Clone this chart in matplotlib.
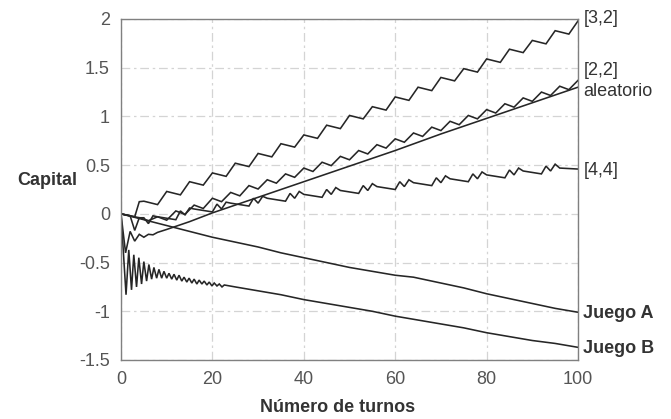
import matplotlib
matplotlib.use("Agg")
import matplotlib.pyplot as plt

# ---- data ----
x_32 = [0, 1, 2, 3, 4, 5, 8, 10, 13, 15, 18, 20, 23, 25, 28, 30, 33, 35, 38, 40, 43, 45, 48, 50,
        53, 55, 58, 60, 63, 65, 68, 70, 73, 75, 78, 80, 83, 85, 88, 90, 93, 95, 98, 100]
y_32 = [0, -0.01, -0.02, -0.03, 0.125, 0.13, 0.095, 0.23, 0.195, 0.33, 0.295, 0.42, 0.385, 0.52,
        0.485, 0.62, 0.585, 0.72, 0.685, 0.81, 0.775, 0.91, 0.875, 1.01, 0.975, 1.10, 1.065, 1.20,
        1.165, 1.30, 1.265, 1.40, 1.365, 1.49, 1.455, 1.59, 1.555, 1.69, 1.655, 1.78, 1.745, 1.88,
        1.845, 1.98]

x_22 = [0, 2, 3, 4, 6, 8, 10, 12, 14, 16, 18, 20, 22, 24, 26, 28, 30, 32, 34, 36, 38, 40, 42, 44,
        46, 48, 50, 52, 54, 56, 58, 60, 62, 64, 66, 68, 70, 72, 74, 76, 78, 80, 82, 84, 86, 88,
        90, 92, 94, 96, 98, 100]
y_22 = [0, -0.02, -0.17, -0.04, -0.07, -0.03, -0.065, 0.03, -0.005, 0.09, 0.055, 0.16, 0.125,
        0.22, 0.185, 0.29, 0.255, 0.35, 0.315, 0.41, 0.375, 0.47, 0.435, 0.53, 0.495, 0.59, 0.555,
        0.65, 0.615, 0.71, 0.675, 0.77, 0.735, 0.83, 0.795, 0.89, 0.855, 0.95, 0.915, 1.01, 0.975,
        1.07, 1.035, 1.13, 1.095, 1.19, 1.155, 1.25, 1.215, 1.31, 1.275, 1.37]

x_rand = [0, 1, 2, 3, 4, 5, 6, 7, 8, 10, 15, 20, 30, 40, 50, 60, 70, 80, 90, 100]
y_rand = [0, -0.40, -0.18, -0.28, -0.21, -0.24, -0.21, -0.215, -0.19, -0.16, -0.08, 0.01, 0.17,
          0.33, 0.49, 0.65, 0.82, 0.98, 1.14, 1.30]

x_44 = [0, 4, 5, 6, 7, 8, 12, 13, 14, 15, 16, 20, 21, 22, 23, 24, 28, 29, 30, 31, 32, 36, 37, 38,
        39, 40, 44, 45, 46, 47, 48, 52, 53, 54, 55, 56, 60, 61, 62, 63, 64, 68, 69, 70, 71, 72, 76,
        77, 78, 79, 80, 84, 85, 86, 87, 88, 92, 93, 94, 95, 96, 100]
y_44 = [0, -0.04, -0.04, -0.10, -0.02, -0.03, -0.06, 0.03, -0.01, 0.06, 0.05, 0.02, 0.10, 0.05,
        0.12, 0.11, 0.08, 0.16, 0.11, 0.18, 0.16, 0.13, 0.21, 0.16, 0.23, 0.20, 0.17, 0.25, 0.20,
        0.27, 0.24, 0.21, 0.29, 0.24, 0.31, 0.28, 0.25, 0.33, 0.28, 0.35, 0.32, 0.29, 0.37, 0.32,
        0.39, 0.36, 0.33, 0.41, 0.36, 0.43, 0.40, 0.37, 0.45, 0.40, 0.47, 0.44, 0.41, 0.49, 0.44,
        0.51, 0.47, 0.46]

x_A = [0, 5, 10, 15, 20, 25, 30, 35, 40, 45, 50, 55, 60, 64, 70, 75, 80, 85, 90, 95, 100]
y_A = [0, -0.06, -0.12, -0.18, -0.24, -0.29, -0.34, -0.40, -0.45, -0.50, -0.55, -0.59, -0.63,
       -0.65, -0.71, -0.76, -0.82, -0.87, -0.92, -0.97, -1.01]

x_B = [0, 1.1, 1.7, 2.3, 2.8, 3.4, 3.9, 4.5, 5.0, 5.6, 6.1, 6.7, 7.2, 7.8, 8.3, 8.9, 9.4, 10.0,
       10.5, 11.1, 11.6, 12.2, 12.7, 13.3, 13.8, 14.4, 14.9, 15.5, 16.0, 16.6, 17.1, 17.7, 18.2,
       18.8, 19.3, 19.9, 20.4, 21.0, 21.5, 22.1, 22.6, 25, 30, 35, 40, 45, 50, 55, 60, 65, 70, 75,
       80, 85, 90, 95, 100]
y_B = [0, -0.83, -0.37, -0.78, -0.42, -0.75, -0.45, -0.72, -0.49, -0.69, -0.52, -0.67, -0.55,
       -0.66, -0.57, -0.66, -0.59, -0.66, -0.61, -0.67, -0.62, -0.68, -0.63, -0.69, -0.65, -0.70,
       -0.66, -0.71, -0.67, -0.72, -0.68, -0.72, -0.69, -0.73, -0.70, -0.74, -0.71, -0.74, -0.72,
       -0.75, -0.73, -0.75, -0.79, -0.83, -0.88, -0.92, -0.96, -1.00, -1.05, -1.09, -1.13, -1.17,
       -1.22, -1.26, -1.30, -1.33, -1.37]

end_labels = ["[3,2]", "[2,2]", "aleatorio", "[4,4]", "Juego A", "Juego B"]
end_label_y = [2.0, 1.47, 1.26, 0.44, -1.02, -1.38]
end_label_bold = [False, False, False, False, True, True]

x_ticks = [0, 20, 40, 60, 80, 100]
y_ticks = [-1.5, -1, -0.5, 0, 0.5, 1, 1.5, 2]
y_ticklabels = ["-1.5", "-1", "-0.5", "0", "0.5", "1", "1.5", "2"]

# ---- drawing ----
plt.rcParams['font.family'] = ['Liberation Sans', 'DejaVu Sans']
W, H = 671, 419
fig = plt.figure(figsize=(W / 100, H / 100), dpi=100)
ax = fig.add_axes([121 / W, 1 - 360 / H, (578 - 121) / W, (360 - 19) / H])

lc = '#262626'
lw = 1.15
for xs, ys in [(x_32, y_32), (x_22, y_22), (x_rand, y_rand), (x_44, y_44), (x_A, y_A), (x_B, y_B)]:
    ax.plot(xs, ys, color=lc, lw=lw, solid_joinstyle='miter')

ax.set_xlim(0, 100)
ax.set_ylim(-1.5, 2)
ax.set_xticks(x_ticks)
ax.set_yticks(y_ticks)
ax.set_yticklabels(y_ticklabels)
ax.tick_params(axis='both', length=0, labelsize=13, colors='#555555', pad=8)
ax.grid(True, color='#d4d4d4', lw=0.9, ls=(0, (7, 3, 2, 3)))
for s in ax.spines.values():
    s.set_color('#808080')
    s.set_linewidth(1.0)

for lab, yv, b in zip(end_labels, end_label_y, end_label_bold):
    ax.text(101.2, yv, lab, fontsize=13, va='center', ha='left', color='#333333',
            fontweight='bold' if b else 'normal', clip_on=False)

fig.text(47 / W, 1 - 180 / H, "Capital", fontsize=13, fontweight='bold', color='#333333',
         ha='center', va='center')
fig.text(338 / W, 1 - 407 / H, "Número de turnos", fontsize=13, fontweight='bold', color='#333333',
         ha='center', va='center')

fig.savefig("out.png", dpi=100)
